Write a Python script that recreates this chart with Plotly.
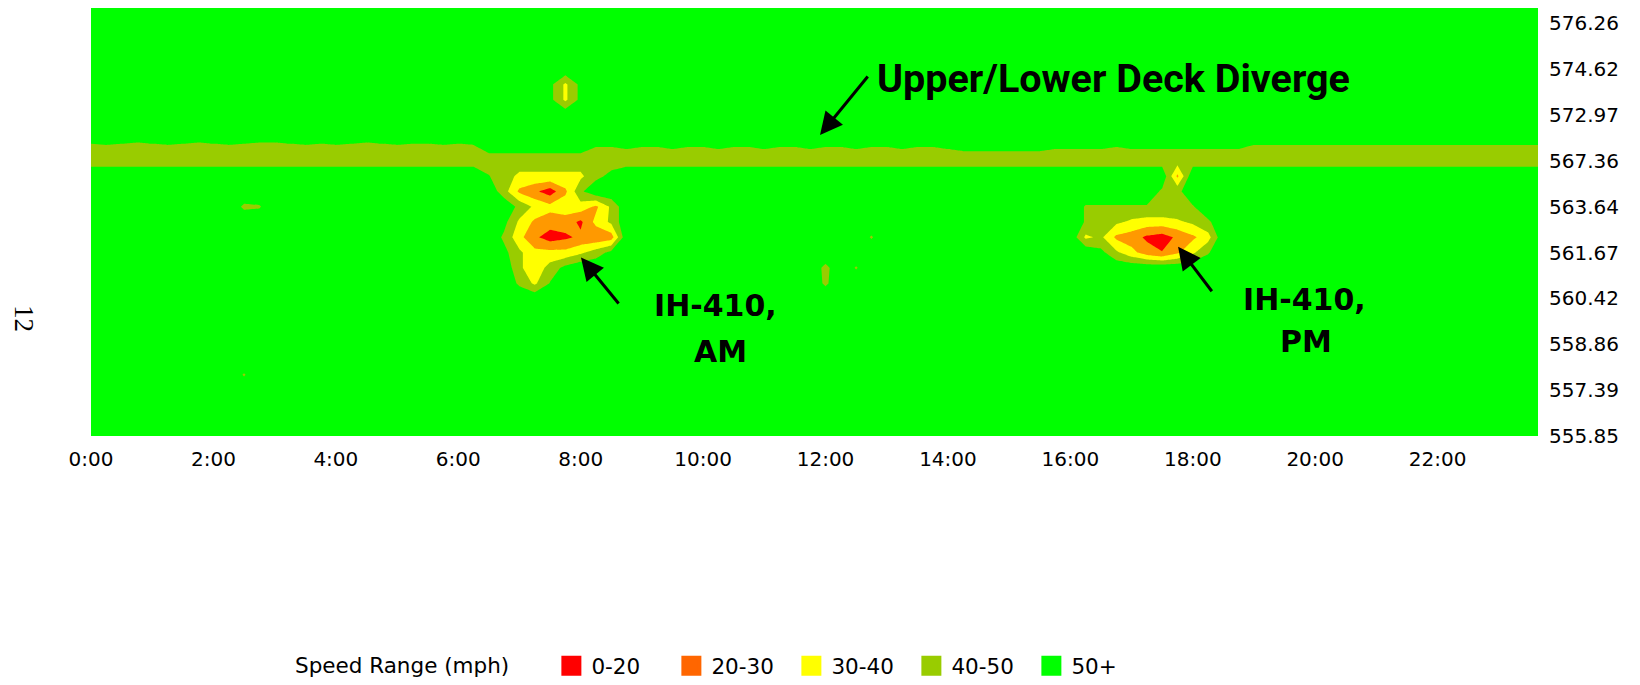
import plotly.graph_objects as go

# ---------------- data ----------------
# time axis: 15-minute intervals over the day
TIME_LABELS = [f"{h}:{m:02d}" for h in range(24) for m in (0, 15, 30, 45)]
TICK_HOURS = [0, 2, 4, 6, 8, 10, 12, 14, 16, 18, 20, 22]
TICK_TEXT = ["0:00", "2:00", "4:00", "6:00", "8:00", "10:00", "12:00",
             "14:00", "16:00", "18:00", "20:00", "22:00"]

# mile-marker rows (index 0 = bottom); labelled every third row
MILE_ROWS = list(range(29))
MILE_TICK_ROWS = [0, 3, 6, 9, 12, 15, 18, 21, 24, 27]
MILE_LABELS = ["555.85", "557.39", "558.86", "560.42", "561.67",
               "563.64", "567.36", "572.97", "574.62", "576.26"]

# speed codes (mph) used in the grid strings below
SPEED_CODE = {'r': 15, 's': 18, 't': 20.5, 'o': 22, 'p': 25, 'q': 28,
              'y': 33, 'z': 36, 'x': 38, 'a': 42, 'b': 44, 'c': 45,
              'd': 47, 'e': 48, 'f': 49, 'g': 49.7, 'h': 50.5, 'i': 51.5,
              'j': 53, 'k': 55, 'G': 58}

G8 = "GGGGGGGG"
# rows listed from top (row 28) to bottom (row 0); 12 groups of 8 (2 h each)
SPEED_ROWS = [
    " ".join([G8] * 12),                                              # 28
    " ".join([G8] * 12),                                              # 27
    " ".join([G8] * 12),                                              # 26
    " ".join([G8] * 12),                                              # 25
    " ".join([G8] * 12),                                              # 24
    "GGGGGGGG GGGGGGGG GGGGGGGG GGGGGGjx jGGGGGGG GGGGGGGG GGGGGGGG GGGGGGGG GGGGGGGG GGGGGGGG GGGGGGGG GGGGGGGG",  # 23
    "GGGGGGGG GGGGGGGG GGGGGGGG GGGGGGjx jGGGGGGG GGGGGGGG GGGGGGGG GGGGGGGG GGGGGGGG GGGGGGGG GGGGGGGG GGGGGGGG",  # 22
    " ".join([G8] * 12),                                              # 21
    " ".join([G8] * 12),                                              # 20
    "fgfefgfe fgfeefgf gfefgffg fgkkkkkk khhihhih hihhihhi hhihhihh ijjjjjji iiihiiii iiiigggg gggggggg gggggggg",  # 19
    "cccccccc cccccccc cccccccc cccccccc cccccccc cccccccc cccccccc cccccccc cccccccc cccccccc cccccccc cccccccc",  # 18
    "GGGGGGGG GGGGGGGG GGGGGGGG GGhbxxxx xdjGGGGG GGGGGGGG GGGGGGGG GGGGGGGG GGGGGGGq GGGGGGGG GGGGGGGG GGGGGGGG",  # 17
    "GGGGGGGG GGGGGGGG GGGGGGGG GGGbqorq eGGGGGGG GGGGGGGG GGGGGGGG GGGGGGGG GGGGGGed GGGGGGGG GGGGGGGG GGGGGGGG",  # 16
    "GGGGGGGG GGefGGGG GGGGGGGG GGGGdxyz zqaGGGGG GGGGGGGG GGGGGGGG GGGGGGGG Gfffffff fGGGGGGG GGGGGGGG GGGGGGGG",  # 15
    "GGGGGGGG GGGGGGGG GGGGGGGG GGGjxqpp syaGGGGG GGGGGGGG GGGGGGGG GGGGGGGG Gfeaxzzx aeGGGGGG GGGGGGGG GGGGGGGG",  # 14
    "GGGGGGGG GGGGGGGG GGGGGGGG GGGeyors oopGGGGG GGGGGGGG GGGfGGGG GGGGGGGG Gxaqpsro qzGGGGGG GGGGGGGG GGGGGGGG",  # 13
    "GGGGGGGG GGGGGGGG GGGGGGGG GGGjayyy xcjGGGGG GGGGGGGG GGGGGGGG GGGGGGGG GGjayptq xfGGGGGG GGGGGGGG GGGGGGGG",  # 12
    "GGGGGGGG GGGGGGGG GGGGGGGG GGGGaybj GGGGGGGG GGGGGGGG dGfGGGGG GGGGGGGG GGGGGGGG GGGGGGGG GGGGGGGG GGGGGGGG",  # 11
    "GGGGGGGG GGGGGGGG GGGGGGGG GGGGexhG GGGGGGGG GGGGGGGG eGGGGGGG GGGGGGGG GGGGGGGG GGGGGGGG GGGGGGGG GGGGGGGG",  # 10
    " ".join([G8] * 12),                                              # 9
    " ".join([G8] * 12),                                              # 8
    " ".join([G8] * 12),                                              # 7
    " ".join([G8] * 12),                                              # 6
    " ".join([G8] * 12),                                              # 5
    "GGGGGGGG GGfGGGGG GGGGGGGG GGGGGGGG GGGGGGGG GGGGGGGG GGGGGGGG GGGGGGGG GGGGGGGG GGGGGGGG GGGGGGGG GGGGGGGG",  # 4
    " ".join([G8] * 12),                                              # 3
    " ".join([G8] * 12),                                              # 2
    " ".join([G8] * 12),                                              # 1
    " ".join([G8] * 12),                                              # 0
]

LEGEND_NAMES = ["0-20", "20-30", "30-40", "40-50", "50+"]
LEGEND_COLORS = ["#FF0000", "#FF6600", "#FFFF00", "#99CC00", "#00FF00"]
FILL_COLORS = ["#FF0000", "#FF9900", "#FFFF00", "#99CC00", "#00FF00"]

# ---------------- build ----------------
hours = [int(t.split(":")[0]) + int(t.split(":")[1]) / 60 for t in TIME_LABELS]
z = []
for row in reversed(SPEED_ROWS):
    s = row.replace(" ", "")
    assert len(s) == 96, len(s)
    z.append([SPEED_CODE[ch] for ch in s])

red, orange, yellow, olive, green = FILL_COLORS
colorscale = [[0.0, red], [0.3, red], [0.3, orange], [0.5, orange],
              [0.5, yellow], [0.7, yellow], [0.7, olive], [0.9, olive],
              [0.9, green], [1.0, green]]

fig = go.Figure()
fig.add_trace(go.Contour(
    x=hours, y=MILE_ROWS, z=z,
    contours=dict(coloring="fill", start=10, end=50, size=10, showlines=False),
    line=dict(width=0, smoothing=0),
    colorscale=colorscale, showscale=False, showlegend=False,
    hoverinfo="skip",
))
for name, col in zip(LEGEND_NAMES, LEGEND_COLORS):
    fig.add_trace(go.Scatter(
        x=[None], y=[None], mode="markers", name=name,
        marker=dict(symbol="square", size=16, color=col,
                    line=dict(width=4, color=col)),
    ))

# the page body adds an 8 px offset; figure sized so the plot area lands
# at x 91..1538, y 8..436 of the window
fig.update_layout(
    width=1632, height=685,
    margin=dict(l=83, r=102, t=0, b=257),
    paper_bgcolor="white", plot_bgcolor="white",
    font=dict(family="DejaVu Sans", size=20, color="#000000"),
    xaxis=dict(range=[0, 23.64], tickvals=TICK_HOURS, ticktext=TICK_TEXT,
               showgrid=False, zeroline=False, showline=False, ticks="",
               ticklabelstandoff=9, tickfont=dict(size=20)),
    yaxis=dict(range=[0, 28], tickvals=MILE_TICK_ROWS, ticktext=MILE_LABELS,
               side="right", showgrid=False, zeroline=False, showline=False,
               ticks="", ticklabelstandoff=10, tickfont=dict(size=20)),
    legend=dict(orientation="h", x=0.1396, xanchor="left", y=-0.537,
                yanchor="middle",
                title=dict(text="Speed Range (mph)     ", side="left",
                           font=dict(size=21.5)),
                font=dict(size=21.5), entrywidth=75, itemsizing="trace",
                bgcolor="rgba(0,0,0,0)"),
    showlegend=True,
)

arrow_kw = dict(showarrow=True, arrowhead=2, arrowsize=1.5, arrowwidth=3,
                arrowcolor="black", text="", axref="x", ayref="y")
fig.add_annotation(x=11.91, y=19.69, ax=12.71, ay=23.62, **arrow_kw)
fig.add_annotation(x=8.005, y=11.68, ax=8.64, ay=8.57, **arrow_kw)
fig.add_annotation(x=17.76, y=12.38, ax=18.33, ay=9.37, **arrow_kw)

bold_big = dict(family="Roboto", size=39.5, color="black")
bold_ih = dict(family="DejaVu Sans", size=30, color="black")
fig.add_annotation(x=16.70, y=23.37, text="<b>Upper/Lower Deck Diverge</b>",
                   showarrow=False, font=bold_big)
fig.add_annotation(x=10.21, y=8.55, text="<b>IH-410,</b>", showarrow=False, font=bold_ih)
fig.add_annotation(x=10.28, y=5.5, text="<b>AM</b>", showarrow=False, font=bold_ih)
fig.add_annotation(x=19.83, y=8.9, text="<b>IH-410,</b>", showarrow=False, font=bold_ih)
fig.add_annotation(x=19.85, y=6.2, text="<b>PM</b>", showarrow=False, font=bold_ih)

fig.add_annotation(x=-0.0463, y=0.2757, xref="paper", yref="paper",
                   xanchor="center", yanchor="middle",
                   text="12", textangle=90, showarrow=False,
                   font=dict(family="Liberation Serif", size=27, color="black"))

fig.write_html("out.html")
